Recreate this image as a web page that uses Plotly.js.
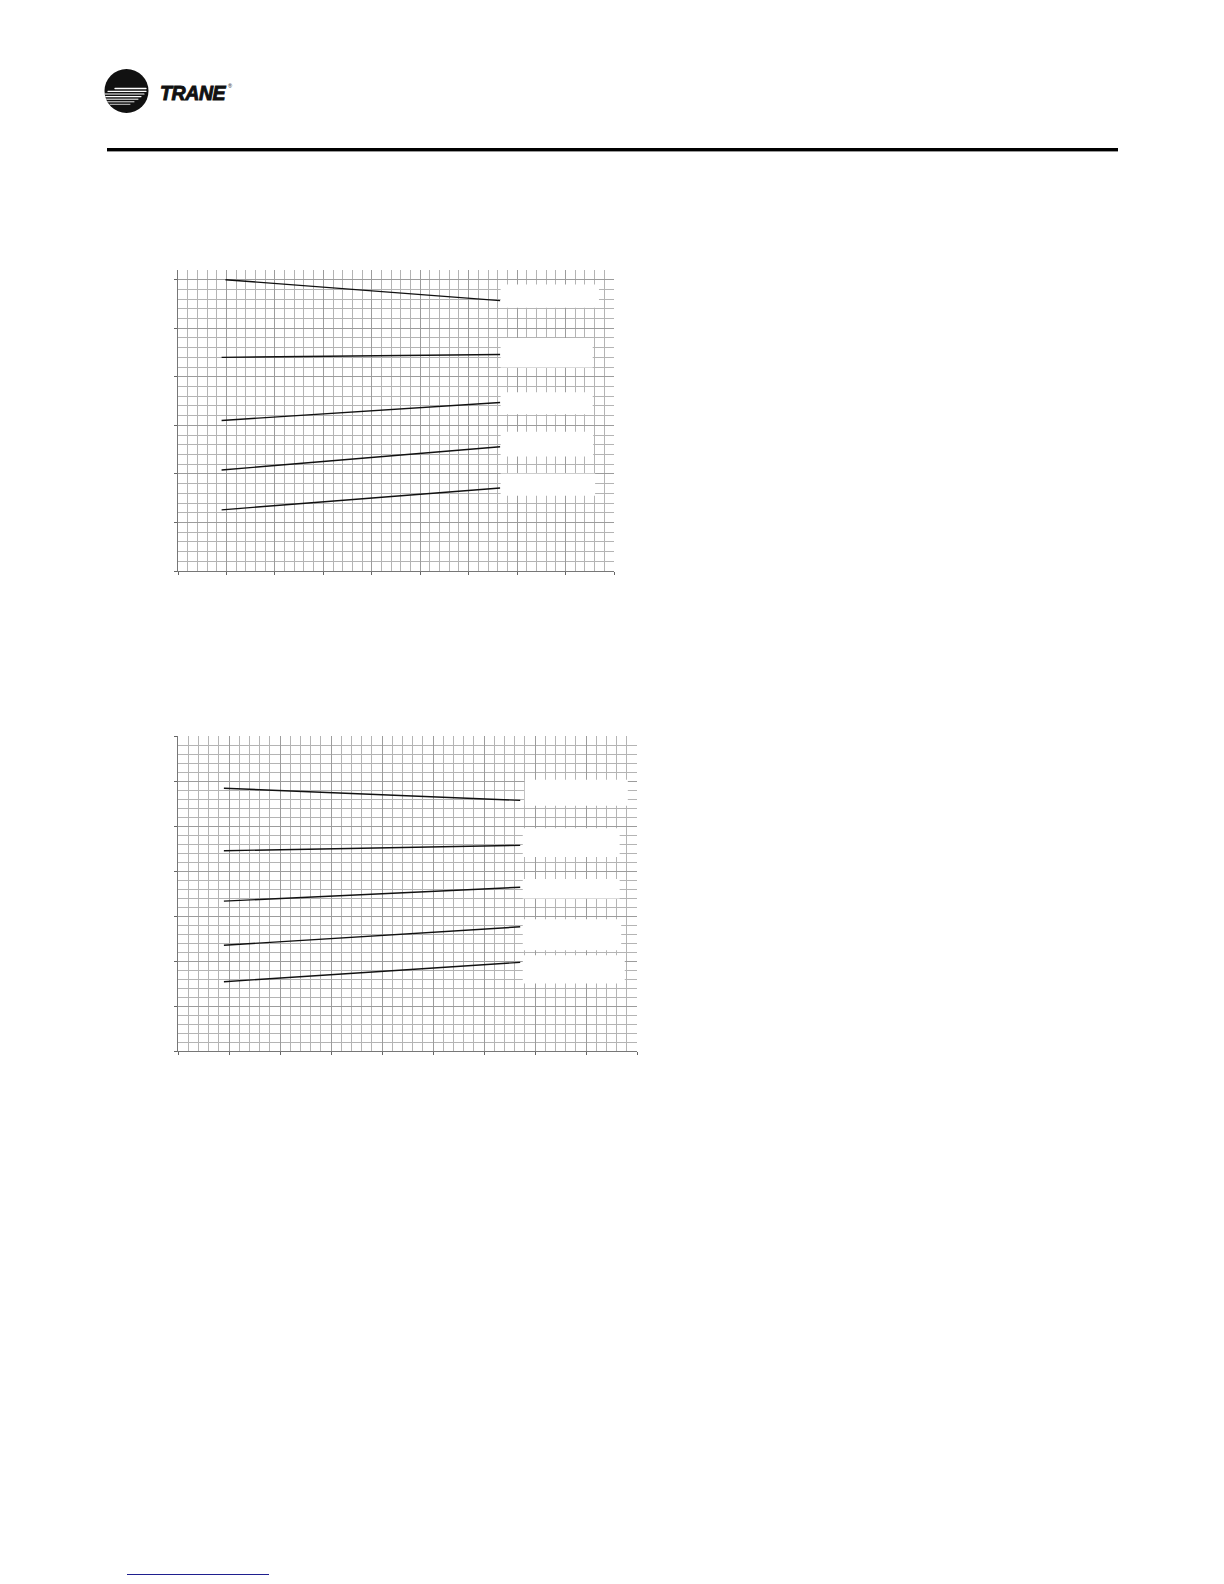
<!DOCTYPE html>
<html>
<head>
<meta charset="utf-8">
<script src="https://cdn.plot.ly/plotly-3.0.1.min.js"></script>
<style>
  html, body { margin: 0; padding: 0; background: #ffffff; }
  body { width: 1224px; height: 1584px; position: relative; overflow: hidden; }
  #header { position: absolute; left: 0; top: 0; }
  #chart1 { position: absolute; left: 128px; top: 230px; width: 536px; height: 380px; }
  #chart2 { position: absolute; left: 128px; top: 696px; width: 559px; height: 395px; }
  #footer { position: absolute; left: 127px; top: 1574px; width: 142px; height: 0; border-top: 1.5px solid #1f1f8f; }
</style>
</head>
<body>
<svg id="header" width="1224" height="170" xmlns="http://www.w3.org/2000/svg">
  <defs>
    <clipPath id="logoClip"><circle cx="126.5" cy="91" r="22"/></clipPath>
  </defs>
  <circle cx="126.5" cy="91" r="22" fill="#111111"/>
  <g clip-path="url(#logoClip)" stroke="#ffffff" stroke-linecap="round">
    <line x1="115" y1="88.5" x2="146" y2="88.5" stroke-width="1.3"/>
    <line x1="108" y1="91.3" x2="146" y2="91.3" stroke-width="1.3"/>
    <line x1="104" y1="94" x2="144" y2="94" stroke-width="1.2"/>
    <line x1="104" y1="96.6" x2="141" y2="96.6" stroke-width="1.1"/>
    <line x1="104" y1="99.2" x2="138" y2="99.2" stroke-width="1"/>
    <line x1="106" y1="101.8" x2="134" y2="101.8" stroke-width="0.9"/>
    <line x1="110" y1="104.3" x2="130" y2="104.3" stroke-width="0.8"/>
  </g>
  <text x="160" y="99.5" font-family="Liberation Sans, Arial, sans-serif" font-size="19.5" font-weight="bold" font-style="italic" fill="#111111" stroke="#111111" stroke-width="0.9" letter-spacing="-0.4">TRANE</text>
  <text x="228" y="88" font-family="Liberation Sans, Arial, sans-serif" font-size="5.5" fill="#111111">®</text>
  <rect x="107" y="148" width="1011" height="3.4" fill="#000000"/>
</svg>
<div id="chart1"></div>
<div id="chart2"></div>
<div id="footer"></div>
<script>
// ---------- DATA: chart 1 (top) ----------
const c1_s1_x = [0.98, 6.65];
const c1_s1_y = [6.00, 5.57];
const c1_s2_x = [0.90, 6.65];
const c1_s2_y = [4.40, 4.46];
const c1_s3_x = [0.90, 6.65];
const c1_s3_y = [3.10, 3.47];
const c1_s4_x = [0.90, 6.65];
const c1_s4_y = [2.08, 2.56];
const c1_s5_x = [0.90, 6.65];
const c1_s5_y = [1.26, 1.71];

// ---------- DATA: chart 2 (bottom) ----------
const c2_s1_x = [0.90, 6.71];
const c2_s1_y = [5.84, 5.57];
const c2_s2_x = [0.90, 6.71];
const c2_s2_y = [4.45, 4.57];
const c2_s3_x = [0.90, 6.71];
const c2_s3_y = [3.33, 3.64];
const c2_s4_x = [0.90, 6.71];
const c2_s4_y = [2.35, 2.76];
const c2_s5_x = [0.90, 6.71];
const c2_s5_y = [1.54, 1.97];

// ---------- Styling / layout ----------
const lineStyle = { color: '#111111', width: 1.4 };
function mk(x, y) {
  return { x: x, y: y, type: 'scatter', mode: 'lines', line: lineStyle, hoverinfo: 'skip', showlegend: false };
}

function axis(range) {
  return {
    range: range, tick0: 0, dtick: 1, showticklabels: false,
    ticks: 'outside', ticklen: 3, tickcolor: '#666666', tickwidth: 1,
    showline: true, linecolor: '#777777', linewidth: 1,
    showgrid: true, gridcolor: '#9c9c9c', gridwidth: 1,
    minor: { tick0: 0, dtick: 0.2, showgrid: true, gridcolor: '#b4b4b4', gridwidth: 1, ticks: '' },
    zeroline: false, fixedrange: true
  };
}

// label placeholder boxes (blank white areas beside line ends)
function box(x0, x1, y0, y1) {
  return { type: 'rect', xref: 'x', yref: 'y', x0: x0, x1: x1, y0: y0, y1: y1,
           fillcolor: '#ffffff', line: { width: 0 }, layer: 'above' };
}

const layout1 = {
  width: 536, height: 380,
  margin: { l: 50, r: 50, t: 40, b: 39 },
  paper_bgcolor: 'rgba(0,0,0,0)', plot_bgcolor: '#ffffff',
  xaxis: axis([0, 9]), yaxis: axis([0, 6.2]),
  shapes: [
    box(6.66, 8.69, 5.42, 5.90),
    box(6.66, 8.56, 4.19, 4.80),
    box(6.66, 8.56, 3.23, 3.68),
    box(6.66, 8.57, 2.36, 2.87),
    box(6.66, 8.61, 1.55, 2.01)
  ]
};

const layout2 = {
  width: 559, height: 395,
  margin: { l: 50, r: 50, t: 40, b: 40 },
  paper_bgcolor: 'rgba(0,0,0,0)', plot_bgcolor: '#ffffff',
  xaxis: axis([0, 9]), yaxis: axis([0, 7]),
  shapes: [
    box(6.80, 8.82, 5.45, 6.03),
    box(6.76, 8.66, 4.31, 4.95),
    box(6.76, 8.66, 3.39, 3.82),
    box(6.76, 8.69, 2.24, 2.93),
    box(6.76, 8.76, 1.50, 2.13)
  ]
};

const config = { staticPlot: true, displayModeBar: false };

Plotly.newPlot('chart1', [
  mk(c1_s1_x, c1_s1_y), mk(c1_s2_x, c1_s2_y), mk(c1_s3_x, c1_s3_y),
  mk(c1_s4_x, c1_s4_y), mk(c1_s5_x, c1_s5_y)
], layout1, config);

Plotly.newPlot('chart2', [
  mk(c2_s1_x, c2_s1_y), mk(c2_s2_x, c2_s2_y), mk(c2_s3_x, c2_s3_y),
  mk(c2_s4_x, c2_s4_y), mk(c2_s5_x, c2_s5_y)
], layout2, config);
</script>
</body>
</html>
